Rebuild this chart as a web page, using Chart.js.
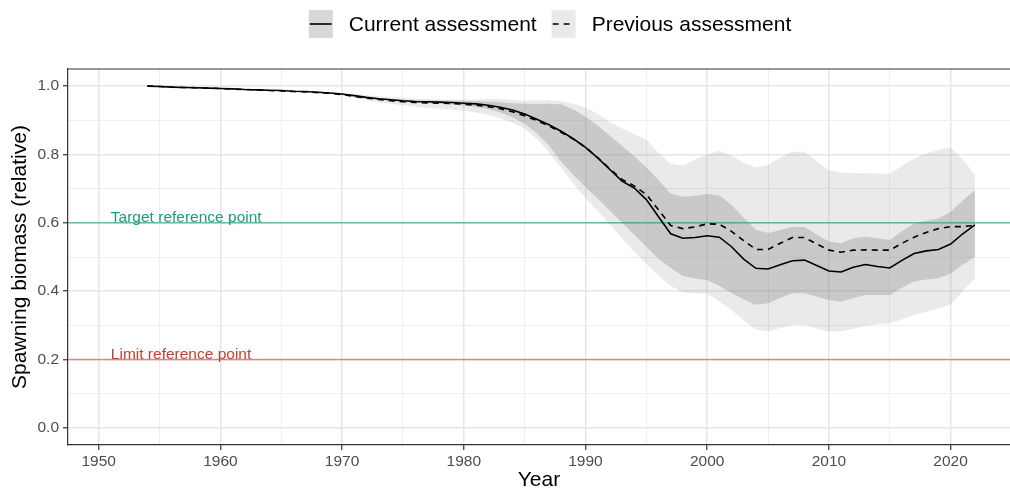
<!DOCTYPE html>
<html>
<head>
<meta charset="utf-8">
<script src="https://cdn.jsdelivr.net/npm/chart.js@4"></script>
<style>
  body { margin: 0; background: #fff; }
  #wrap { width: 1010px; height: 491px; }
</style>
</head>
<body>
<div id="wrap"><canvas id="biomassChart" width="1010" height="491"></canvas></div>
<script>
// Assessment years
const years = [1954, 1955, 1956, 1957, 1958, 1959,
  1960, 1961, 1962, 1963, 1964, 1965, 1966, 1967, 1968, 1969,
  1970, 1971, 1972, 1973, 1974, 1975, 1976, 1977, 1978, 1979,
  1980, 1981, 1982, 1983, 1984, 1985, 1986, 1987, 1988, 1989,
  1990, 1991, 1992, 1993, 1994, 1995, 1996, 1997, 1998, 1999,
  2000, 2001, 2002, 2003, 2004, 2005, 2006, 2007, 2008, 2009,
  2010, 2011, 2012, 2013, 2014, 2015, 2016, 2017, 2018, 2019,
  2020, 2021, 2022];

// Relative spawning biomass, current assessment (median and interval)
const current = [1.000, 0.999, 0.997, 0.996, 0.995, 0.994,
  0.993, 0.992, 0.990, 0.989, 0.988, 0.987, 0.985, 0.984, 0.982, 0.980,
  0.977, 0.972, 0.967, 0.963, 0.960, 0.957, 0.955, 0.954, 0.953, 0.952,
  0.950, 0.948, 0.944, 0.938, 0.930, 0.918, 0.903, 0.887, 0.868, 0.846,
  0.821, 0.790, 0.756, 0.722, 0.702, 0.668, 0.618, 0.568, 0.555, 0.557,
  0.562, 0.558, 0.530, 0.494, 0.467, 0.465, 0.477, 0.489, 0.491, 0.475,
  0.459, 0.456, 0.470, 0.478, 0.472, 0.468, 0.490, 0.510, 0.518, 0.522,
  0.538, 0.568, 0.594];
const currentHigh = [1.000, 0.999, 0.997, 0.996, 0.995, 0.994,
  0.993, 0.992, 0.990, 0.989, 0.988, 0.987, 0.985, 0.984, 0.982, 0.980,
  0.977, 0.973, 0.969, 0.965, 0.962, 0.960, 0.959, 0.958, 0.958, 0.957,
  0.957, 0.956, 0.955, 0.953, 0.950, 0.948, 0.947, 0.948, 0.946, 0.932,
  0.910, 0.885, 0.855, 0.825, 0.795, 0.762, 0.725, 0.686, 0.676, 0.679,
  0.684, 0.680, 0.652, 0.615, 0.580, 0.570, 0.579, 0.588, 0.588, 0.566,
  0.545, 0.540, 0.555, 0.559, 0.555, 0.550, 0.575, 0.598, 0.606, 0.613,
  0.632, 0.665, 0.696];
const currentLow = [1.000, 0.999, 0.997, 0.996, 0.995, 0.994,
  0.993, 0.992, 0.990, 0.989, 0.988, 0.987, 0.985, 0.984, 0.982, 0.980,
  0.977, 0.971, 0.965, 0.961, 0.957, 0.954, 0.951, 0.950, 0.948, 0.946,
  0.943, 0.939, 0.933, 0.923, 0.909, 0.889, 0.862, 0.826, 0.779, 0.740,
  0.705, 0.671, 0.635, 0.600, 0.565, 0.530, 0.495, 0.468, 0.445, 0.437,
  0.433, 0.415, 0.395, 0.376, 0.360, 0.365, 0.380, 0.394, 0.394, 0.384,
  0.374, 0.369, 0.380, 0.389, 0.389, 0.389, 0.410, 0.428, 0.434, 0.438,
  0.452, 0.477, 0.501];

// Previous assessment (median and interval)
const previous = [1.000, 0.999, 0.997, 0.996, 0.995, 0.994,
  0.993, 0.991, 0.990, 0.989, 0.987, 0.986, 0.984, 0.983, 0.981, 0.979,
  0.975, 0.970, 0.965, 0.961, 0.957, 0.954, 0.952, 0.951, 0.950, 0.949,
  0.947, 0.944, 0.940, 0.934, 0.925, 0.913, 0.899, 0.883, 0.865, 0.845,
  0.821, 0.791, 0.758, 0.727, 0.708, 0.683, 0.638, 0.592, 0.583, 0.588,
  0.597, 0.596, 0.575, 0.548, 0.522, 0.522, 0.540, 0.557, 0.557, 0.538,
  0.520, 0.514, 0.520, 0.521, 0.520, 0.520, 0.540, 0.558, 0.572, 0.583,
  0.589, 0.589, 0.592];
const previousHigh = [1.000, 0.999, 0.997, 0.996, 0.995, 0.994,
  0.993, 0.992, 0.990, 0.989, 0.988, 0.987, 0.985, 0.984, 0.982, 0.981,
  0.979, 0.976, 0.973, 0.970, 0.967, 0.965, 0.963, 0.962, 0.961, 0.961,
  0.961, 0.961, 0.962, 0.962, 0.960, 0.958, 0.958, 0.959, 0.956, 0.948,
  0.938, 0.918, 0.895, 0.876, 0.860, 0.842, 0.805, 0.773, 0.768, 0.785,
  0.800, 0.811, 0.797, 0.776, 0.762, 0.769, 0.790, 0.808, 0.808, 0.780,
  0.754, 0.747, 0.746, 0.745, 0.744, 0.743, 0.766, 0.788, 0.803, 0.813,
  0.820, 0.785, 0.740];
const previousLow = [1.000, 0.999, 0.997, 0.996, 0.995, 0.994,
  0.993, 0.991, 0.990, 0.989, 0.987, 0.986, 0.984, 0.983, 0.980, 0.977,
  0.973, 0.966, 0.959, 0.953, 0.948, 0.944, 0.940, 0.937, 0.934, 0.931,
  0.928, 0.923, 0.916, 0.906, 0.893, 0.875, 0.846, 0.806, 0.762, 0.716,
  0.672, 0.635, 0.595, 0.555, 0.515, 0.480, 0.445, 0.415, 0.396, 0.393,
  0.393, 0.370, 0.345, 0.315, 0.288, 0.282, 0.292, 0.301, 0.301, 0.290,
  0.282, 0.282, 0.290, 0.298, 0.303, 0.306, 0.318, 0.330, 0.340, 0.350,
  0.360, 0.400, 0.438];

// Reference points
const targetRef = 0.6;
const limitRef = 0.2;
const targetLabel = 'Target reference point';
const limitLabel = 'Limit reference point';
const refLabelYear = 1951;

// Axis ticks
const xMajorTicks = [1950, 1960, 1970, 1980, 1990, 2000, 2010, 2020];
const xMinorTicks = [1955, 1965, 1975, 1985, 1995, 2005, 2015];
const xTickLabels = ['1950', '1960', '1970', '1980', '1990', '2000', '2010', '2020'];
const yMajorTicks = [0, 0.2, 0.4, 0.6, 0.8, 1.0];
const yMinorTicks = [0.1, 0.3, 0.5, 0.7, 0.9];
const yTickLabels = ['0.0', '0.2', '0.4', '0.6', '0.8', '1.0'];

const seriesLabels = ['Current assessment', 'Previous assessment'];

const FONT = "'Liberation Sans', Arial, Helvetica, sans-serif";
const xMin = 1947.48, xMax = 2024.88;

const pts = arr => years.map((yr, i) => ({ x: yr, y: arr[i] }));
const hline = v => [{ x: xMin, y: v }, { x: xMax, y: v }];

const isMajor = (list, v) => list.some(t => Math.abs(t - v) < 1e-6);
const labelFor = (list, labels, v) => {
    const i = list.findIndex(t => Math.abs(t - v) < 1e-6);
    return i >= 0 ? labels[i] : '';
};

const bandCurrent = 'rgba(127,127,127,0.3)';
const bandPrevious = 'rgba(127,127,127,0.16)';

// Reference point captions, sitting just above their lines
const refLabels = {
    id: 'refLabels',
    afterDatasetsDraw(chart) {
        const { ctx, scales } = chart;
        ctx.save();
        ctx.font = '15.5px ' + FONT;
        ctx.textAlign = 'left';
        ctx.textBaseline = 'alphabetic';
        ctx.fillStyle = '#1b9e77';
        ctx.fillText(targetLabel, scales.x.getPixelForValue(refLabelYear), scales.y.getPixelForValue(targetRef) - 1);
        ctx.fillStyle = '#c0442c';
        ctx.fillText(limitLabel, scales.x.getPixelForValue(refLabelYear), scales.y.getPixelForValue(limitRef) - 1);
        ctx.restore();
    }
};

// Panel frame (top edge; left and bottom come from the axes)
const panelFrame = {
    id: 'panelFrame',
    afterDraw(chart) {
        const { ctx, chartArea } = chart;
        ctx.save();
        ctx.strokeStyle = '#333333';
        ctx.lineWidth = 1.2;
        ctx.beginPath();
        ctx.moveTo(chartArea.left, chartArea.top);
        ctx.lineTo(chartArea.right, chartArea.top);
        ctx.stroke();
        ctx.restore();
    }
};

// Legend across the top: grey key boxes with a line sample
const topLegend = {
    id: 'topLegend',
    afterDraw(chart) {
        const { ctx } = chart;
        ctx.save();
        ctx.font = '21px ' + FONT;
        const w1 = ctx.measureText(seriesLabels[0]).width;
        const w2 = ctx.measureText(seriesLabels[1]).width;
        const keyW = 24, keyH = 28, keyGap = 16, itemGap = 15;
        const total = keyW + keyGap + w1 + itemGap + keyW + keyGap + w2;
        const cy = 24;
        let x = 550 - total / 2;
        const keys = [
            { fill: bandCurrent, dash: [], text: seriesLabels[0], w: w1 },
            { fill: bandPrevious, dash: [6, 5], text: seriesLabels[1], w: w2 }
        ];
        keys.forEach(k => {
            ctx.fillStyle = k.fill;
            ctx.fillRect(x, cy - keyH / 2, keyW, keyH);
            ctx.strokeStyle = '#000';
            ctx.lineWidth = 1.6;
            ctx.setLineDash(k.dash);
            ctx.beginPath();
            ctx.moveTo(x + 1, cy);
            ctx.lineTo(x + keyW - 1, cy);
            ctx.stroke();
            ctx.setLineDash([]);
            ctx.fillStyle = '#000';
            ctx.textBaseline = 'middle';
            ctx.textAlign = 'left';
            ctx.fillText(k.text, x + keyW + keyGap, cy + 1);
            x += keyW + keyGap + k.w + itemGap;
        });
        ctx.restore();
    }
};

const ctx = document.getElementById('biomassChart').getContext('2d');
const biomassChart = new Chart(ctx, {
    type: 'line',
    data: {
        datasets: [
            { label: seriesLabels[0], data: pts(current), borderColor: '#000', borderWidth: 1.6, pointRadius: 0, fill: false },
            { label: seriesLabels[1], data: pts(previous), borderColor: '#000', borderWidth: 1.6, borderDash: [6, 5], pointRadius: 0, fill: false },
            { label: targetLabel, data: hline(targetRef), borderColor: 'rgba(27,158,119,0.62)', borderWidth: 1.6, pointRadius: 0, fill: false },
            { label: limitLabel, data: hline(limitRef), borderColor: 'rgba(192,68,44,0.55)', borderWidth: 1.6, pointRadius: 0, fill: false },
            { label: 'current upper', data: pts(currentHigh), borderWidth: 0, pointRadius: 0, fill: '+1', backgroundColor: bandCurrent },
            { label: 'current lower', data: pts(currentLow), borderWidth: 0, pointRadius: 0, fill: false },
            { label: 'previous upper', data: pts(previousHigh), borderWidth: 0, pointRadius: 0, fill: '+1', backgroundColor: bandPrevious },
            { label: 'previous lower', data: pts(previousLow), borderWidth: 0, pointRadius: 0, fill: false }
        ]
    },
    options: {
        responsive: false,
        animation: false,
        events: [],
        layout: { padding: { top: 69, left: 0, right: 0, bottom: 0 } },
        plugins: {
            legend: { display: false },
            tooltip: { enabled: false }
        },
        scales: {
            x: {
                type: 'linear',
                min: xMin,
                max: xMax,
                afterBuildTicks: s => { s.ticks = xMajorTicks.concat(xMinorTicks).sort((a, b) => a - b).map(v => ({ value: v })); },
                afterFit: s => { s.height = 46; },
                grid: {
                    color: c => isMajor(xMajorTicks, c.tick.value) ? '#e6e6e6' : '#eeeeee',
                    lineWidth: c => isMajor(xMajorTicks, c.tick.value) ? 1.5 : 1,
                    tickLength: 5,
                    tickWidth: 1.2,
                    tickColor: c => isMajor(xMajorTicks, c.tick.value) ? '#333333' : 'rgba(0,0,0,0)'
                },
                border: { display: true, color: '#333333', width: 1.2, z: 1 },
                ticks: {
                    autoSkip: false,
                    maxRotation: 0,
                    padding: 2,
                    color: '#4d4d4d',
                    font: { family: FONT, size: 15.5 },
                    callback: v => labelFor(xMajorTicks, xTickLabels, v)
                },
                title: {
                    display: true,
                    text: 'Year',
                    color: '#000',
                    font: { family: FONT, size: 21, lineHeight: 1 },
                    padding: { top: 0, bottom: 0 }
                }
            },
            y: {
                type: 'linear',
                min: -0.05,
                max: 1.05,
                afterBuildTicks: s => { s.ticks = yMajorTicks.concat(yMinorTicks).sort((a, b) => a - b).map(v => ({ value: v })); },
                afterFit: s => { s.width = 68; },
                grid: {
                    color: c => isMajor(yMajorTicks, c.tick.value) ? '#e6e6e6' : '#eeeeee',
                    lineWidth: c => isMajor(yMajorTicks, c.tick.value) ? 1.5 : 1,
                    tickLength: 5,
                    tickWidth: 1.2,
                    tickColor: c => isMajor(yMajorTicks, c.tick.value) ? '#333333' : 'rgba(0,0,0,0)'
                },
                border: { display: true, color: '#333333', width: 1.2, z: 1 },
                ticks: {
                    autoSkip: false,
                    padding: 4,
                    color: '#4d4d4d',
                    font: { family: FONT, size: 15.5 },
                    callback: v => labelFor(yMajorTicks, yTickLabels, v)
                },
                title: {
                    display: true,
                    text: 'Spawning biomass (relative)',
                    color: '#000',
                    font: { family: FONT, size: 21, lineHeight: 1 },
                    padding: { top: 9.5, bottom: 0 }
                }
            }
        }
    },
    plugins: [refLabels, panelFrame, topLegend]
});
</script>
</body>
</html>
